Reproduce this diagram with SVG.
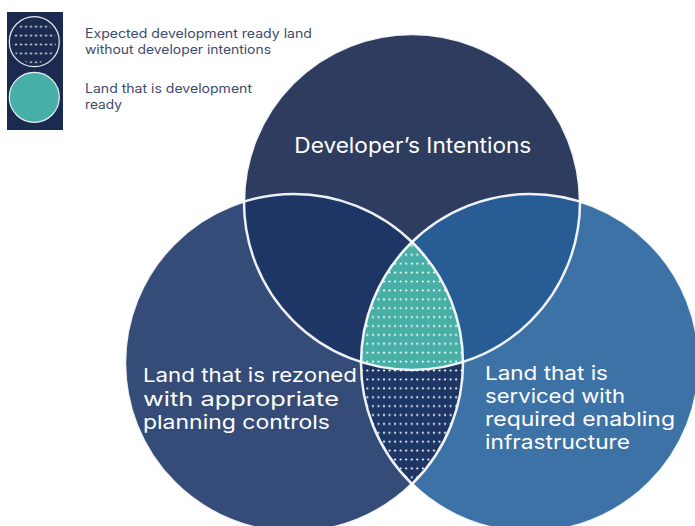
<svg xmlns="http://www.w3.org/2000/svg" width="695" height="526" viewBox="0 0 695 526">
  <style>
    .lbl { font-family: Inter, "Open Sans", "Liberation Sans", sans-serif; font-weight: 400; fill: #ffffff; font-size: 19px; }
    .ttl { font-size: 21px; }
    .leg { font-family: Inter, "Open Sans", "Liberation Sans", sans-serif; font-size: 12.8px; fill: #3E4B6C; }
    .ring { fill: none; stroke: #ffffff; stroke-width: 2.5; stroke-opacity: 0.92; }
  </style>
  <defs>
    <circle id="cT" cx="412" cy="202" r="168"/>
    <circle id="cL" cx="294" cy="363" r="169"/>
    <circle id="cR" cx="530" cy="363" r="169"/>
    <clipPath id="clipT"><use href="#cT"/></clipPath>
    <clipPath id="clipL"><use href="#cL"/></clipPath>
    <clipPath id="legClip"><circle cx="34" cy="41.7" r="22"/></clipPath>
    <pattern id="dots" patternUnits="userSpaceOnUse" x="381.22" y="294.85" width="5.55" height="8.9">
      <circle cx="2.775" cy="4.45" r="1.1" fill="#ffffff"/>
    </pattern>
    <pattern id="legDots" patternUnits="userSpaceOnUse" x="28.5" y="22.25" width="5" height="8.9">
      <circle cx="2.5" cy="4.45" r="0.95" fill="#ffffff"/>
    </pattern>
  </defs>

  <g id="legend">
    <rect x="7" y="12" width="56" height="118" fill="#1B2B50"/>
    <g id="legend-expected">
      <circle cx="34.3" cy="41.7" r="25" fill="#1B2B50" stroke="#ffffff" stroke-width="1.2" stroke-opacity="0.9"/>
      <rect x="10" y="16" width="50" height="52" fill="url(#legDots)" clip-path="url(#legClip)"/>
      <text class="leg" x="85" y="38.3" textLength="227" lengthAdjust="spacingAndGlyphs">Expected development ready land</text>
      <text class="leg" x="85" y="53.8" textLength="186" lengthAdjust="spacingAndGlyphs">without developer intentions</text>
    </g>
    <g id="legend-ready">
      <circle cx="34.3" cy="97.3" r="25" fill="#47AFA6" stroke="#ffffff" stroke-width="1.2" stroke-opacity="0.9"/>
      <text class="leg" x="85" y="93.3" textLength="167" lengthAdjust="spacingAndGlyphs">Land that is development</text>
      <text class="leg" x="85" y="108.8" textLength="37" lengthAdjust="spacingAndGlyphs">ready</text>
    </g>
  </g>

  <g id="circle-developer">
    <use href="#cT" fill="#2E3D5F"/>
  </g>
  <g id="circle-rezoned">
    <use href="#cL" fill="#344C77"/>
  </g>
  <g id="circle-serviced">
    <use href="#cR" fill="#3D72A6"/>
  </g>

  <g id="overlap-developer-rezoned" clip-path="url(#clipT)">
    <use href="#cL" fill="#1D3666"/>
  </g>
  <g id="overlap-developer-serviced" clip-path="url(#clipT)">
    <use href="#cR" fill="#285C94"/>
  </g>
  <g id="overlap-rezoned-serviced" clip-path="url(#clipL)">
    <use href="#cR" fill="#1E3666"/>
    <use href="#cR" fill="url(#dots)"/>
  </g>
  <g id="overlap-all" clip-path="url(#clipT)">
    <g clip-path="url(#clipL)">
      <use href="#cR" fill="#47AFA6"/>
      <use href="#cR" fill="url(#dots)"/>
    </g>
  </g>

  <g id="outlines">
    <use href="#cT" class="ring"/>
    <use href="#cL" class="ring"/>
    <use href="#cR" class="ring"/>
  </g>

  <g id="labels">
    <text class="lbl ttl" x="294.3" y="152.5" textLength="237" lengthAdjust="spacingAndGlyphs">Developer’s Intentions</text>
    <text class="lbl" x="143" y="382" textLength="214" lengthAdjust="spacingAndGlyphs">Land that is rezoned</text>
    <text class="lbl" x="143" y="405.5" textLength="196" lengthAdjust="spacingAndGlyphs">with appropriate</text>
    <text class="lbl" x="143" y="429" textLength="187" lengthAdjust="spacingAndGlyphs">planning controls</text>
    <text class="lbl" x="485" y="379.5" textLength="123" lengthAdjust="spacingAndGlyphs">Land that is</text>
    <text class="lbl" x="485" y="402.8" textLength="140" lengthAdjust="spacingAndGlyphs">serviced with</text>
    <text class="lbl" x="485" y="426" textLength="190" lengthAdjust="spacingAndGlyphs">required enabling</text>
    <text class="lbl" x="485" y="449.3" textLength="145" lengthAdjust="spacingAndGlyphs">infrastructure</text>
  </g>
</svg>
